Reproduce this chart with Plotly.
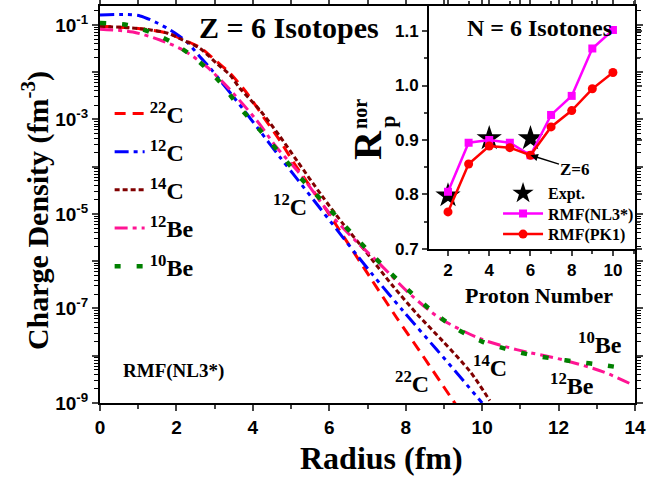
import plotly.graph_objects as go
import numpy as np

# ---------------- Main panel: charge density, log10(rho / fm^-3) vs radius (fm)
r_22C = [0, 1.05, 1.75, 2.17, 2.62, 3.06, 3.4, 3.85, 4.27, 4.71, 5.05, 5.92, 6.28, 7.1, 7.75, 8.38, 9.14, 9.3]
lg_22C = [-1.03, -1.08, -1.17, -1.31, -1.48, -1.78, -2.02, -2.45, -2.94, -3.45, -3.89, -4.91, -5.36, -6.38, -7.18, -7.92, -8.83, -9.02]

r_12C = [0, 0.7, 1.05, 1.5, 1.96, 2.3, 2.62, 2.88, 3.14, 3.49, 3.85, 4.19, 4.71, 5.1, 5.76, 6.36, 6.73, 7.15, 7.93, 8.82, 9.5, 10.0]
lg_12C = [-0.79, -0.78, -0.81, -0.96, -1.17, -1.38, -1.68, -1.91, -2.17, -2.52, -2.89, -3.25, -3.8, -4.2, -4.88, -5.5, -5.88, -6.3, -7.05, -7.88, -8.52, -9.0]

r_14C = [0, 1.05, 1.75, 2.17, 2.62, 3.06, 3.4, 3.66, 4.19, 4.7, 5.16, 5.81, 6.36, 6.88, 7.67, 8.3, 8.98, 9.69, 10.2]
lg_14C = [-1.03, -1.08, -1.17, -1.32, -1.50, -1.82, -2.06, -2.34, -2.81, -3.35, -3.88, -4.62, -5.21, -5.72, -6.53, -7.12, -7.70, -8.34, -8.95]

r_12Be = [0, 0.86, 1.57, 2.17, 2.8, 3.32, 4.1, 4.63, 5.24, 6.02, 6.73, 7.25, 8.12, 8.9, 9.95, 10.9, 12.13, 13.17, 13.95]
lg_12Be = [-1.09, -1.15, -1.32, -1.53, -1.89, -2.3, -3.02, -3.6, -4.16, -5.0, -5.6, -6.0, -6.7, -7.21, -7.64, -7.87, -8.09, -8.34, -8.62]

r_10Be = [0, 0.71, 1.31, 1.91, 2.54, 3.14, 3.65, 4.19, 4.71, 5.24, 5.81, 6.36, 6.96, 7.55, 8.16, 8.77, 9.37, 10.0, 10.6, 11.26, 11.86, 12.5, 13.1, 13.7]
lg_10Be = [-0.96, -1.0, -1.15, -1.38, -1.74, -2.21, -2.74, -3.23, -3.72, -4.23, -4.72, -5.21, -5.73, -6.21, -6.68, -7.11, -7.45, -7.70, -7.85, -7.98, -8.06, -8.13, -8.19, -8.26]

# ---------------- Inset: normalised proton radius for N = 6 isotones
Z_calc = [2, 3, 4, 5, 6, 7, 8, 9, 10]
R_nl3 = [0.805, 0.895, 0.900, 0.895, 0.872, 0.946, 0.981, 1.068, 1.102]
R_pk1 = [0.768, 0.856, 0.889, 0.886, 0.872, 0.924, 0.954, 0.994, 1.024]
Z_expt = [2, 4, 6]
R_expt = [0.798, 0.903, 0.903]

SERIF = "Liberation Serif"
SANS = "Liberation Sans"

series = [
    ("<sup>22</sup>C", r_22C, lg_22C, "#FF0000", "11px,7px", 3),
    ("<sup>12</sup>C", r_12C, lg_12C, "#0000FF", "14px,5px,4px,5px,4px,5px", 3),
    ("<sup>14</sup>C", r_14C, lg_14C, "#800000", "5px,3px", 3),
    ("<sup>12</sup>Be", r_12Be, lg_12Be, "#FF1493", "13px,5px,4px,5px", 3),
    ("<sup>10</sup>Be", r_10Be, lg_10Be, "#008000", "6px,16px", 4.5),
]

fig = go.Figure()
for i, (name, r, lg, col, dash, w) in enumerate(series):
    fig.add_trace(go.Scatter(
        x=r, y=10 ** np.array(lg), mode="lines", name=name,
        line=dict(color=col, width=w, dash=dash, shape="spline", smoothing=0.8),
        legend="legend", legendgroup=f"g{i}",
        xaxis="x", yaxis="y"))

fig.add_trace(go.Scatter(
    x=Z_expt, y=R_expt, mode="markers", name="Expt.",
    marker=dict(symbol="star", size=19, color="black"),
    legend="legend2", xaxis="x2", yaxis="y2"))
fig.add_trace(go.Scatter(
    x=Z_calc, y=R_nl3, mode="lines+markers", name="RMF(NL3*)",
    line=dict(color="#FF00FF", width=2.5),
    marker=dict(symbol="square", size=8, color="#FF00FF"),
    legend="legend3", xaxis="x2", yaxis="y2"))
fig.add_trace(go.Scatter(
    x=Z_calc, y=R_pk1, mode="lines+markers", name="RMF(PK1)",
    line=dict(color="#FF0000", width=2.5),
    marker=dict(symbol="circle", size=9, color="#FF0000"),
    legend="legend4", xaxis="x2", yaxis="y2"))

decades = [10.0 ** e for e in range(-9, 0)]
dec_text = [f"10<sup>{e}</sup>" if e % 2 else "" for e in range(-9, 0)]
log_minor = [m * 10.0 ** e for e in range(-9, 0) for m in range(2, 10)]

tickfont = dict(family=SANS, size=19, color="black", weight="bold")
inset_legend_font = dict(family=SERIF, size=16, color="black", weight="bold")
fig.update_layout(
    width=648, height=478,
    margin=dict(l=100, r=13, t=6, b=75, autoexpand=False),
    paper_bgcolor="white", plot_bgcolor="white",
    showlegend=True,
    xaxis=dict(domain=[0, 1], range=[0, 14], tickvals=list(range(0, 15, 2)),
               ticks="outside", ticklen=6, tickwidth=2, showline=True, linewidth=2,
               linecolor="black", mirror="allticks", showgrid=False, zeroline=False,
               tickfont=tickfont, automargin=False,
               minor=dict(dtick=1, ticks="outside", ticklen=4, tickwidth=1.5, showgrid=False)),
    yaxis=dict(domain=[0, 1], type="log", range=[-9, -0.6], tickmode="array",
               tickvals=decades, ticktext=dec_text, automargin=False,
               ticks="outside", ticklen=6, tickwidth=2, showline=True, linewidth=2,
               linecolor="black", mirror="allticks", showgrid=False, zeroline=False,
               tickfont=tickfont,
               minor=dict(tickmode="array", tickvals=log_minor, ticks="outside",
                          ticklen=4, tickwidth=1, tickcolor="black", showgrid=False)),
    xaxis2=dict(domain=[0.615, 1.0], anchor="y2", range=[1.08, 11.07],
                tickvals=[2, 4, 6, 8, 10], ticks="outside", ticklen=5, tickwidth=2,
                showline=True, linewidth=2, linecolor="black", mirror="allticks",
                showgrid=False, zeroline=False, automargin=False,
                tickfont=dict(family=SANS, size=17, color="black", weight="bold"),
                minor=dict(dtick=1, ticks="outside", ticklen=3, tickwidth=1.5)),
    yaxis2=dict(domain=[0.388, 1.0], anchor="x2", range=[0.7, 1.146],
                tickvals=[0.7, 0.8, 0.9, 1.0, 1.1], ticktext=["0.7", "0.8", "0.9", "1.0", "1.1"],
                ticks="outside", ticklen=5, tickwidth=2, automargin=False,
                showline=True, linewidth=2, linecolor="black", mirror="allticks",
                showgrid=False, zeroline=False,
                tickfont=dict(family=SANS, size=17, color="black", weight="bold"),
                minor=dict(dtick=0.05, ticks="outside", ticklen=3, tickwidth=1.5)),
    legend=dict(x=0.018, y=0.785, xanchor="left", yanchor="top",
                bgcolor="rgba(0,0,0,0)", tracegroupgap=4,
                font=dict(family=SERIF, size=24, color="black", weight="bold")),
    legend2=dict(x=0.744, y=0.571, xanchor="left", yanchor="top", itemwidth=40,
                 bgcolor="rgba(0,0,0,0)", font=inset_legend_font),
    legend3=dict(x=0.744, y=0.520, xanchor="left", yanchor="top", itemwidth=40,
                 bgcolor="rgba(0,0,0,0)", font=inset_legend_font),
    legend4=dict(x=0.744, y=0.468, xanchor="left", yanchor="top", itemwidth=40,
                 bgcolor="rgba(0,0,0,0)", font=inset_legend_font),
)

def ann(text, x, y, size, angle=0, xref="paper", yref="paper"):
    fig.add_annotation(text=text, x=x, y=y, xref=xref, yref=yref, showarrow=False,
                       textangle=angle, xanchor="center", yanchor="middle",
                       font=dict(family=SERIF, size=size, color="black", weight="bold"))

ann("Charge Density (fm<sup>-3</sup>)", -0.1215, 0.486, 30, -90)
ann("Radius (fm)", 0.527, -0.1385, 32)
ann("Z = 6 Isotopes", 0.353, 0.947, 30)
ann("N = 6 Isotones", 0.822, 0.945, 24)
ann("Proton Number", 0.821, 0.27, 22)
ann("RMF(NL3*)", 0.138, 0.081, 19)
ann("<sup>12</sup>C", 0.355, 0.499, 24)
ann("<sup>22</sup>C", 0.583, 0.053, 24)
ann("<sup>14</sup>C", 0.729, 0.093, 24)
ann("<sup>10</sup>Be", 0.935, 0.151, 24)
ann("<sup>12</sup>Be", 0.882, 0.048, 24)
ann("R", 0.501, 0.65, 40, -90)
ann("nor", 0.486, 0.728, 20, -90)
ann("p", 0.538, 0.708, 22, -90)

fig.add_annotation(text="Z=6", x=6, y=0.872, xref="x2", yref="y2", showarrow=True,
                   ax=45, ay=14, arrowhead=2, arrowsize=1, arrowwidth=1.5, arrowcolor="black",
                   font=dict(family=SERIF, size=17, color="black", weight="bold"))

fig.write_html("out.html")
